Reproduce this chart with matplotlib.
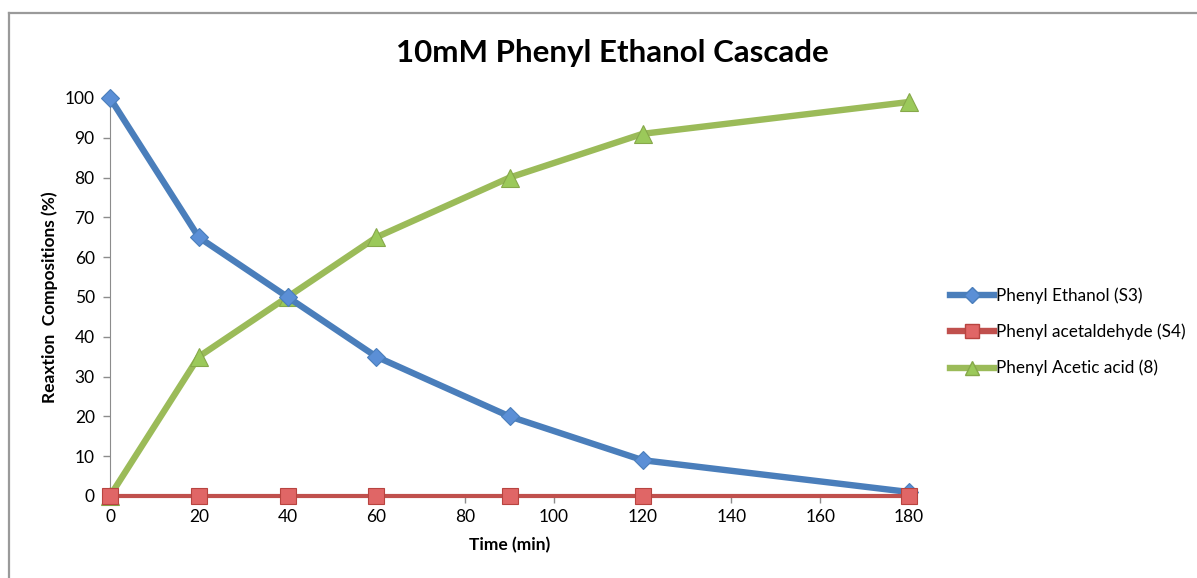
import matplotlib
matplotlib.use("Agg")
import matplotlib.pyplot as plt
from matplotlib.lines import Line2D

plt.rcParams['font.family'] = ['Lato', 'DejaVu Sans']

time_min = [0, 20, 40, 60, 90, 120, 180]
phenyl_ethanol = [100, 65, 50, 35, 20, 9, 1]
phenyl_acetaldehyde = [0, 0, 0, 0, 0, 0, 0]
phenyl_acetic_acid = [0, 35, 50, 65, 80, 91, 99]
series_labels = ["Phenyl Ethanol (S3)", "Phenyl acetaldehyde (S4)", "Phenyl Acetic acid (8)"]
x_ticks = [0, 20, 40, 60, 80, 100, 120, 140, 160, 180]
y_ticks = [0, 10, 20, 30, 40, 50, 60, 70, 80, 90, 100]

W, H = 1197, 578
fig = plt.figure(figsize=(W / 100, H / 100), dpi=100)

# outer frame (open at right and bottom)
fig.add_artist(Line2D([8.5 / W, 8.5 / W], [0, 1 - 12.5 / H], transform=fig.transFigure, color='#9a9a9a', lw=1.6))
fig.add_artist(Line2D([8.5 / W, 1], [1 - 12.5 / H, 1 - 12.5 / H], transform=fig.transFigure, color='#9a9a9a', lw=1.6))

ax = fig.add_axes([110 / W, (H - 496) / H, (909 - 110) / W, (496 - 98) / H])

blue = '#4A7EBB'
red = '#C0504D'
green = '#9BBB59'

ax.plot(time_min, phenyl_acetic_acid, color=green, lw=4.6, marker='^', ms=13,
        mfc='#9BC95A', mec='#86A84A', mew=0.8, clip_on=False, zorder=3, label=series_labels[2])
ax.plot(time_min, phenyl_ethanol, color=blue, lw=4.6, marker='D', ms=9,
        mfc='#5B8FD6', mec='#4A7EBB', mew=0.8, clip_on=False, zorder=4, label=series_labels[0])
ax.plot(time_min, phenyl_acetaldehyde, color=red, lw=3.0, marker='s', ms=12,
        mfc='#E06666', mec='#B84440', mew=0.8, clip_on=False, zorder=5, label=series_labels[1])

ax.set_xlim(0, 180)
ax.set_ylim(0, 100)
ax.set_xticks(x_ticks)
ax.set_yticks(y_ticks)
for s in ['top', 'right']:
    ax.spines[s].set_visible(False)
ax.spines['left'].set_color('#8c8c8c')
ax.spines['bottom'].set_color('#8c8c8c')
ax.tick_params(axis='both', colors='#8c8c8c', labelcolor='black', labelsize=12.5, length=5, width=1)
ax.tick_params(axis='x', pad=4)
ax.tick_params(axis='y', pad=6)

ax.set_xlabel("Time (min)", fontsize=12.5, fontweight='bold', labelpad=9)
ax.set_ylabel("Reaxtion  Compositions (%)", fontsize=12.5, fontweight='bold', labelpad=5)

fig.text(612 / W, 1 - 53 / H, "10mM Phenyl Ethanol Cascade", ha='center', va='center',
         fontsize=22.5, fontweight='bold')

handles = [
    Line2D([], [], color=blue, lw=4.6, marker='D', ms=8, mfc='#5B8FD6', mec='#4A7EBB'),
    Line2D([], [], color=red, lw=4.6, marker='s', ms=10, mfc='#E06666', mec='#B84440'),
    Line2D([], [], color=green, lw=4.6, marker='^', ms=10, mfc='#9BC95A', mec='#86A84A'),
]
fig.legend(handles, series_labels, loc='center left', bbox_to_anchor=(950 / W, 1 - 332 / H),
           frameon=False, fontsize=12.3, handlelength=2.6, handletextpad=0.1, labelspacing=1.15,
           borderaxespad=0, borderpad=0)

fig.savefig("out.png", dpi=100)
